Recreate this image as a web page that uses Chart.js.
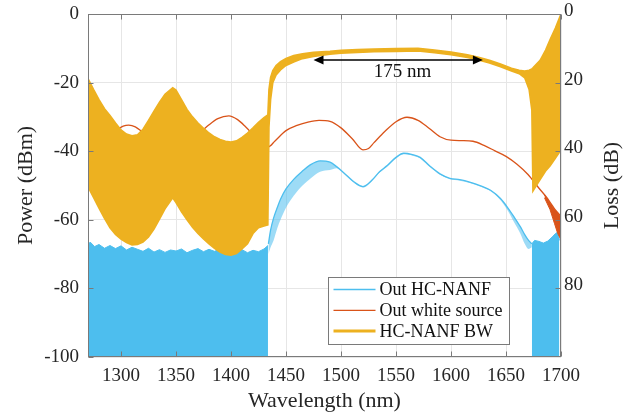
<!DOCTYPE html>
<html>
<head>
<meta charset="utf-8">
<title>HC-NANF spectrum</title>
<script src="https://cdn.jsdelivr.net/npm/chart.js@4.4.0/dist/chart.umd.min.js"></script>
<style>
  html, body { margin: 0; padding: 0; background: #fff; }
  #wrap { width: 623px; height: 412px; }
</style>
</head>
<body>
<div id="wrap"><canvas id="chart" width="623" height="412"></canvas></div>
<script>
// Legend names
const seriesNames = ["Out HC-NANF", "Out white source", "HC-NANF BW"];

// Ticks
const xTicks = [1300, 1350, 1400, 1450, 1500, 1550, 1600, 1650, 1700];
const powerTicks = [0, -20, -40, -60, -80, -100];
const lossTicks = [0, 20, 40, 60, 80];

// HC-NANF BW (loss in dB, right axis) - upper / lower edge of the fast fringes
const bwX = [1270,1275,1280,1285,1290,1295,1300,1305,1310,1315,1320,1325,1330,1335,1340,1347,1350,1355,1360,1365,1370,1375,1380,1385,1390,1395,1400,1405,1410,1415,1420,1425,1430,1433.5,1434.5,1436,1438,1441,1445,1450,1457,1465,1475,1490,1500,1515,1530,1550,1570,1585,1600,1615,1625,1635,1645,1655,1662,1667,1671,1673.5,1674.5,1681,1686,1690,1695,1698.5,1700];
const bwTop = [18.8,22,25,27.6,29.6,31.8,33.8,35,35.5,35.2,33.6,31,28.3,25.7,23.4,21.5,22.2,25,27.8,30,31.8,33.3,34.7,35.8,36.6,37.1,37.3,37,36,34.7,33.2,31.6,30.2,29.4,22,18.5,16.5,15,13.9,13,12.1,11.6,11.2,10.9,10.6,10.4,10.2,10.1,10,10.5,11.1,11.9,12.6,13.5,14.6,15.8,16.4,16.6,16.4,16,15.7,13.5,10.5,7.5,4,1.2,0];
const bwBottom = [50.4,53.5,56.6,59.6,62.3,64.3,65.6,66.6,67.3,67.2,66.5,65,62.7,59.8,56.8,53.6,55,57.7,60,62.2,64,65.6,67,68.3,69.4,70.1,70.3,69.8,68.5,67,64,62.3,61.8,61.5,33,25,20,17.8,16.3,15,14,13,12.4,11.7,11.4,11.2,11,10.9,10.8,11.3,11.9,12.7,13.4,14.3,15.4,16.6,17.4,18.6,22,28,51.6,48.3,45.8,44.3,42,40.3,39.5];

// Out white source (dBm)
const whiteX = [1270,1280,1290,1296,1302,1307,1313,1319,1330,1345,1360,1373,1380,1388,1398,1406,1413,1418,1426,1434,1440,1450,1460,1470,1480,1490,1500,1510,1520,1525,1530,1540,1550,1560,1570,1580,1590,1600,1610,1620,1630,1640,1650,1660,1670,1680,1687,1692,1696,1699,1699.6,1700];
const whitePower = [-37,-36.5,-35,-33.8,-32.7,-32.4,-32.9,-34.3,-37,-39,-38,-34.3,-32.3,-30.5,-29.7,-30.8,-32.8,-34.5,-38,-38.7,-37,-34,-32.5,-31.5,-31,-31.3,-33.2,-36.3,-39.6,-39.2,-37.5,-34.2,-31.4,-30.1,-31,-33.3,-35.8,-36.8,-36.9,-37.1,-38.3,-39.9,-41.5,-43.8,-46.8,-50.8,-53.5,-55.8,-57.5,-58.5,-60,-100];
// noisy end of the white source
const whiteTailX = [1685, 1690, 1694, 1697, 1699.5];
const whiteTailTop = [-52.8, -55.2, -57, -58, -59];
const whiteTailBottom = [-53.6, -57, -61, -64, -65.5];

// Out HC-NANF (dBm)
const nanfX = [1434,1436,1438.7,1442,1445,1450,1457,1465,1472,1481,1490,1496,1505,1512,1520,1528,1535,1542,1550,1557,1565,1572,1581,1590,1599,1608,1617,1627,1636,1645,1651,1657,1663,1667,1670.5,1673.5];
const nanfPower = [-67,-63,-59.5,-56.5,-54,-51,-48.2,-45.8,-44,-42.8,-43.2,-44.5,-47,-49,-50.3,-48.5,-46,-44.2,-41.8,-40.6,-41,-41.8,-44.4,-46.6,-47.9,-48.3,-49,-50.1,-51.4,-53.8,-56.2,-59,-62,-64.3,-66,-67];
// lower edge of the noise spikes
const nanfSpikes = [-70,-68,-66,-62.5,-60,-56.5,-53,-50,-48,-46,-45.5,-45,-47.3,-49.3,-50.6,-48.8,-46.3,-44.5,-42.1,-40.9,-41.3,-42.1,-44.7,-46.9,-48.2,-48.6,-49.3,-50.4,-51.7,-54.3,-57,-60.5,-64,-67,-68.5,-68];
// noise floor outside the band (filled down to -100)
const floorLeftX = [1270,1272,1276,1280,1285,1290,1295,1300,1305,1310,1315,1320,1325,1330,1335,1340,1345,1350,1355,1360,1365,1370,1375,1380,1385,1390,1395,1400,1405,1410,1415,1420,1425,1430,1433.6];
const floorLeft = [-67.2,-66.5,-67.8,-67.2,-68.3,-67.5,-68.4,-67.6,-68.8,-68,-68.6,-69.2,-68.3,-69.4,-68.7,-69.5,-68.8,-69.1,-68.5,-69.6,-68.9,-68.4,-69.3,-68.6,-69.2,-68.5,-69.5,-69.9,-69,-68.7,-69.6,-68.9,-69.3,-68.5,-67.5];
const floorRightX = [1673.5, 1676, 1680, 1684, 1688, 1692, 1695, 1697.5, 1698.5];
const floorRight = [-67, -66, -66.3, -66.8, -66.2, -65, -64, -63.5, -66];

// Bandwidth arrow
const arrowFrom = 1475;
const arrowTo = 1629;
const arrowLevel = -13.4;
const arrowText = "175 nm";
const arrowTextX = 1556;
const arrowTextLevel = -17;

const BLUE = "#4DBEEE";
const ORANGE = "#D95319";
const YELLOW = "#EDB120";
const FONT = "'Liberation Serif', 'Times New Roman', serif";
const TEXT = "#262626";

function pts(xs, ys){
    return xs.map((x, i) => ({ x: x, y: ys[i] }));
}

// Box, inner ticks, arrow, right title, legend
const framePlugin = {
    id: "frame",
    afterDraw(chart){
        const ctx = chart.ctx;
        const a = chart.chartArea;
        const sx = chart.scales.x, sy = chart.scales.y, sy2 = chart.scales.y2;
        const L = Math.round(a.left) + 0.5, R = Math.round(a.right) - 0.5;
        const T = Math.round(a.top) + 0.5, B = Math.round(a.bottom) - 0.5;
        ctx.save();

        ctx.strokeStyle = "#7a7a7a";
        ctx.lineWidth = 1;
        ctx.strokeRect(L, T, R - L, B - T);
        ctx.beginPath();
        xTicks.forEach(v => {
            const px = Math.round(sx.getPixelForValue(v)) + 0.5;
            ctx.moveTo(px, B); ctx.lineTo(px, B - 5);
            ctx.moveTo(px, T); ctx.lineTo(px, T + 5);
        });
        powerTicks.forEach(v => {
            const py = Math.round(sy.getPixelForValue(v)) + 0.5;
            ctx.moveTo(L, py); ctx.lineTo(L + 5, py);
        });
        lossTicks.forEach(v => {
            const py = Math.round(sy2.getPixelForValue(v)) + 0.5;
            ctx.moveTo(R, py); ctx.lineTo(R - 5, py);
        });
        ctx.stroke();

        // 175 nm arrow
        const ay = sy.getPixelForValue(arrowLevel);
        const x1 = sx.getPixelForValue(arrowFrom);
        const x2 = sx.getPixelForValue(arrowTo);
        ctx.strokeStyle = "#000";
        ctx.fillStyle = "#000";
        ctx.lineWidth = 1.5;
        ctx.beginPath();
        ctx.moveTo(x1 + 6, ay); ctx.lineTo(x2 - 6, ay);
        ctx.stroke();
        ctx.beginPath();
        ctx.moveTo(x1, ay); ctx.lineTo(x1 + 10, ay - 4.5); ctx.lineTo(x1 + 10, ay + 4.5); ctx.closePath();
        ctx.moveTo(x2, ay); ctx.lineTo(x2 - 10, ay - 4.5); ctx.lineTo(x2 - 10, ay + 4.5); ctx.closePath();
        ctx.fill();
        ctx.font = "19px " + FONT;
        ctx.textAlign = "center";
        ctx.textBaseline = "middle";
        ctx.fillStyle = "#111";
        ctx.fillText(arrowText, sx.getPixelForValue(arrowTextX), sy.getPixelForValue(arrowTextLevel));

        // right axis title (reads bottom to top like the left one)
        ctx.save();
        ctx.translate(612, (a.top + a.bottom) / 2);
        ctx.rotate(-Math.PI / 2);
        ctx.font = "22px " + FONT;
        ctx.fillStyle = TEXT;
        ctx.fillText("Loss (dB)", 0, 0);
        ctx.restore();

        // legend
        const lx = 328.5, ly = 277.5, lw = 181, lh = 67;
        ctx.fillStyle = "#fff";
        ctx.fillRect(lx, ly, lw, lh);
        ctx.strokeStyle = "#7a7a7a";
        ctx.lineWidth = 1;
        ctx.strokeRect(lx, ly, lw, lh);
        const colors = [BLUE, ORANGE, YELLOW];
        const widths = [1.3, 1.3, 3];
        ctx.font = "18px " + FONT;
        ctx.textAlign = "left";
        ctx.textBaseline = "middle";
        seriesNames.forEach((name, i) => {
            const y = ly + 12 + i * 20.8;
            ctx.strokeStyle = colors[i];
            ctx.lineWidth = widths[i];
            ctx.beginPath();
            ctx.moveTo(lx + 5, y); ctx.lineTo(lx + 47, y);
            ctx.stroke();
            ctx.fillStyle = "#111";
            ctx.fillText(name, lx + 51, y + 1);
        });
        ctx.restore();
    }
};

const lineBase = { pointRadius: 0, pointHoverRadius: 0, spanGaps: true };

new Chart(document.getElementById("chart"), {
    type: "line",
    data: {
        datasets: [
            { ...lineBase, label: seriesNames[2], data: pts(bwX, bwTop), yAxisID: "y2", borderColor: YELLOW, backgroundColor: YELLOW, borderWidth: 1.6, fill: "+1", tension: 0, order: 1 },
            { ...lineBase, label: "bw lower", data: pts(bwX, bwBottom), yAxisID: "y2", borderColor: YELLOW, borderWidth: 1.6, fill: false, tension: 0, order: 1 },
            { ...lineBase, label: seriesNames[1], data: pts(whiteX, whitePower), yAxisID: "y", borderColor: ORANGE, borderWidth: 1.3, fill: false, cubicInterpolationMode: "monotone", order: 2 },
            { ...lineBase, label: "white tail top", data: pts(whiteTailX, whiteTailTop), yAxisID: "y", borderColor: ORANGE, backgroundColor: ORANGE, borderWidth: 1, fill: "+1", order: 2 },
            { ...lineBase, label: "white tail bottom", data: pts(whiteTailX, whiteTailBottom), yAxisID: "y", borderColor: ORANGE, borderWidth: 1, fill: false, order: 2 },
            { ...lineBase, label: seriesNames[0], data: pts(nanfX, nanfPower), yAxisID: "y", borderColor: BLUE, borderWidth: 1.3, fill: false, cubicInterpolationMode: "monotone", order: 3 },
            { ...lineBase, label: "nanf spikes", data: pts(nanfX, nanfSpikes), yAxisID: "y", borderWidth: 0, borderColor: "rgba(0,0,0,0)", backgroundColor: "rgba(77,190,238,0.55)", fill: "-1", cubicInterpolationMode: "monotone", order: 3 },
            { ...lineBase, label: "floor left", data: pts(floorLeftX, floorLeft), yAxisID: "y", borderColor: BLUE, backgroundColor: BLUE, borderWidth: 1, fill: "start", order: 3 },
            { ...lineBase, label: "floor right", data: pts(floorRightX, floorRight), yAxisID: "y", borderColor: BLUE, backgroundColor: BLUE, borderWidth: 1, fill: "start", order: 3 }
        ]
    },
    options: {
        responsive: false,
        animation: false,
        events: [],
        layout: { padding: { top: 14, left: 0, right: 0, bottom: 0 } },
        plugins: {
            legend: { display: false },
            tooltip: { enabled: false }
        },
        scales: {
            x: {
                type: "linear",
                min: 1270, max: 1700,
                afterBuildTicks: s => { s.ticks = xTicks.map(v => ({ value: v })); },
                afterFit: s => { s.height = 55; s.paddingLeft = 0; s.paddingRight = 0; },
                grid: { color: "#e6e6e6", drawTicks: false },
                border: { display: false },
                ticks: { font: { family: FONT, size: 19 }, color: TEXT, padding: 8, maxRotation: 0, callback: v => String(v) },
                title: { display: true, text: "Wavelength (nm)", font: { family: FONT, size: 22 }, color: TEXT, padding: { top: 0, bottom: -2 } }
            },
            y: {
                type: "linear",
                min: -100, max: 0,
                afterBuildTicks: s => { s.ticks = powerTicks.map(v => ({ value: v })); },
                afterFit: s => { s.width = 88; s.paddingTop = 0; s.paddingBottom = 0; },
                grid: { color: "#e6e6e6", drawTicks: false },
                border: { display: false },
                ticks: { font: { family: FONT, size: 19 }, color: TEXT, padding: 9, callback: v => String(v) },
                title: { display: true, text: "Power (dBm)", font: { family: FONT, size: 22 }, color: TEXT, padding: { top: 13, bottom: 0 } }
            },
            y2: {
                type: "linear",
                position: "right",
                min: 0, max: 100,
                reverse: true,
                afterBuildTicks: s => { s.ticks = lossTicks.map(v => ({ value: v })); },
                afterFit: s => { s.width = 62; s.paddingTop = 0; s.paddingBottom = 0; },
                grid: { display: false, drawTicks: false },
                border: { display: false },
                ticks: { font: { family: FONT, size: 19 }, color: TEXT, padding: 3, labelOffset: -3, callback: v => String(v) },
                title: { display: false }
            }
        }
    },
    plugins: [framePlugin]
});
</script>
</body>
</html>
